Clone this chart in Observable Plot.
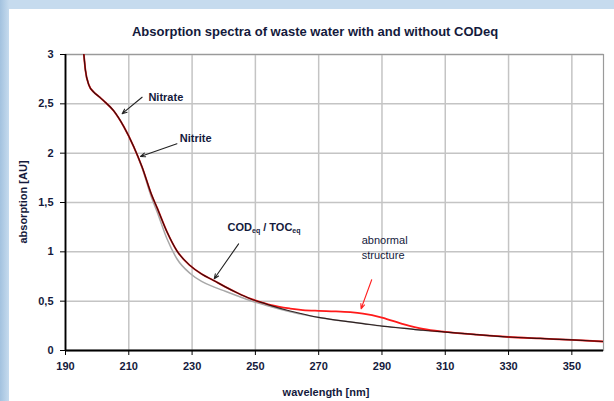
<!DOCTYPE html>
<html><head><meta charset="utf-8">
<script src="https://cdn.jsdelivr.net/npm/d3@7"></script>
<script src="https://cdn.jsdelivr.net/npm/@observablehq/plot@0.6"></script>
<style>
html,body{margin:0;padding:0;}
body{width:614px;height:401px;overflow:hidden;position:relative;background:linear-gradient(90deg,#a3c2df 0px,#c6dbee 9px,#c6dbee 100%);font-family:"Liberation Sans",Arial,sans-serif;}
#panel{position:absolute;left:9px;top:9px;right:0;bottom:0;background:#fff;}
#chart{position:absolute;left:0;top:0;}
.title{position:absolute;left:0;width:630px;top:25px;text-align:center;font-size:13px;line-height:14px;font-weight:bold;color:#141a3c;}
.xlab{position:absolute;left:0;width:652px;top:386px;text-align:center;font-size:11px;line-height:12px;font-weight:bold;color:#141a3c;}
.ylab{position:absolute;left:23px;top:202px;transform:translate(-50%,-50%) rotate(-90deg);white-space:nowrap;font-size:11px;line-height:12px;font-weight:bold;color:#141a3c;}
</style></head>
<body>
<div id="panel"></div>
<div id="chart"></div>
<div class="title">Absorption spectra of waste water with and without CODeq</div>
<div class="xlab">wavelength [nm]</div>
<div class="ylab">absorption [AU]</div>
<script>
// wavelength grid (nm)
const wavelengths = [195.8,196.3,197.4,198.9,200.5,202.1,205.2,208.4,211.5,214.2,217.3,218.9,222.1,225.2,229.4,233,236.8,240.5,244.2,248.4,252.6,254.7,261,265,270,275,280,284,290,297,303,310,320,330,340,350,360];
// spectrum without COD (black)
const absBlack = [3.0,2.84,2.69,2.62,2.575,2.53,2.43,2.27,2.07,1.86,1.57,1.45,1.20,1.01,0.86,0.775,0.71,0.645,0.585,0.525,0.48,0.458,0.40,0.37,0.335,0.31,0.29,0.273,0.247,0.225,0.205,0.187,0.16,0.137,0.122,0.108,0.091];
// spectrum with abnormal structure (red)
const absRed = [3.0,2.84,2.69,2.62,2.575,2.53,2.43,2.27,2.07,1.86,1.57,1.45,1.20,1.01,0.86,0.775,0.71,0.645,0.585,0.525,0.482,0.462,0.425,0.41,0.402,0.397,0.388,0.374,0.334,0.264,0.218,0.189,0.16,0.137,0.122,0.108,0.091];
// spectrum with CODeq (grey)
const absGrey = [3.0,2.84,2.69,2.62,2.575,2.53,2.43,2.27,2.07,1.85,1.54,1.41,1.13,0.93,0.78,0.70,0.645,0.60,0.555,0.505,0.465,0.445,0.392,0.365,0.335,0.31,0.29,0.273,0.247,0.225,0.205,0.187,0.16,0.137,0.122,0.108,0.091];

const xTicks = [190,210,230,250,270,290,310,330,350];
const yTicks = [0,0.5,1,1.5,2,2.5,3];

// annotations
const noteText = ["Nitrate","Nitrite","CODeq / TOCeq","abnormal\nstructure"];
const noteX = [216.2,226.1,241.2,283.6];
const noteY = [2.564,2.15,1.25,1.049];
const noteWeight = ["bold","bold","bold","normal"];
const arrowX1 = [214.2,225.2,244.7,286.75];
const arrowY1 = [2.567,2.095,1.081,0.717];
const arrowX2 = [207.9,213.7,237.0,283.4];
const arrowY2 = [2.40,1.966,0.727,0.423];
const arrowColor = ["#222","#222","#222","#ff2020"];

const series = (vals) => wavelengths.map((w,i)=>({w, a: vals[i]}));
const notes = noteText.map((t,i)=>({t, x:noteX[i], y:noteY[i], fw:noteWeight[i]}));
const arrows = arrowX1.map((x,i)=>({x1:x,y1:arrowY1[i],x2:arrowX2[i],y2:arrowY2[i],c:arrowColor[i]}));
const fmt = d => String(d).replace(".", ",");

const plot = Plot.plot({
  width: 614, height: 401,
  marginLeft: 65, marginRight: 11, marginTop: 54, marginBottom: 51,
  style: {background: "transparent", color: "#141a3c", fontFamily: "'Liberation Sans', Arial, sans-serif", overflow: "visible"},
  x: {domain: [190,360]},
  y: {domain: [0,3]},
  marks: [
    Plot.gridX(xTicks, {stroke: "#c4c4c4", strokeOpacity: 1, strokeWidth: 1.5}),
    Plot.gridY(yTicks, {stroke: "#c4c4c4", strokeOpacity: 1, strokeWidth: 1.5}),
    Plot.frame({stroke: "#9a9a9a", strokeWidth: 1.2}),
    Plot.line(series(absGrey), {x:"w", y:"a", stroke:"#a8a8a8", strokeWidth:1.5, curve:"monotone-x", clip:true}),
    Plot.line(series(absRed), {x:"w", y:"a", stroke:"#ff1a1a", strokeWidth:1.8, curve:"monotone-x", clip:true}),
    Plot.line(series(absBlack), {x:"w", y:"a", stroke:"#1a0a0a", strokeWidth:1.2, strokeOpacity:0.85, curve:"monotone-x", clip:true}),
    Plot.ruleX([190], {stroke:"#000", strokeWidth:1.8}),
    Plot.ruleY([0], {stroke:"#000", strokeWidth:1.8}),
    Plot.axisX(xTicks, {tickSize:5, tickPadding:7, tickFormat: d=>d, fontSize:11, fontWeight:"bold", label:null, stroke:"#000"}),
    Plot.axisY(yTicks, {tickSize:5, tickPadding:7, tickFormat: fmt, fontSize:11, fontWeight:"bold", label:null, stroke:"#000"}),
    Plot.arrow(arrows, {x1:"x1", y1:"y1", x2:"x2", y2:"y2", stroke:"c", strokeWidth:1.1, headLength:7, headAngle:45}),
    Plot.text(notes.filter(n=>n.fw==="bold"), {x:"x", y:"y", text:"t", textAnchor:"start", fontSize:11, fontWeight:"bold", fill:"#141a3c"}),
    Plot.text(notes.filter(n=>n.fw!=="bold"), {x:"x", y:"y", text:"t", textAnchor:"start", fontSize:11, lineHeight:1.3, fill:"#141a3c"})
  ]
});
document.getElementById("chart").appendChild(plot);
// subscripts for CODeq / TOCeq
d3.select(plot).selectAll("text").filter(function(){ return this.textContent === "CODeq / TOCeq"; })
  .each(function(){
    const t = d3.select(this);
    t.text(null);
    t.append("tspan").text("COD");
    t.append("tspan").attr("font-size", 7).attr("dy", 2).text("eq");
    t.append("tspan").attr("dy", -2).text(" / TOC");
    t.append("tspan").attr("font-size", 7).attr("dy", 2).text("eq");
  });
</script>
</body></html>
